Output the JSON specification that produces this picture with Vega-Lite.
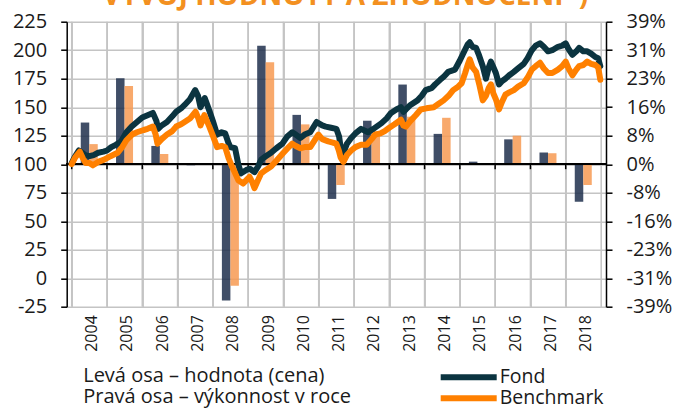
{
  "$schema": "https://vega.github.io/schema/vega-lite/v6.json",
  "width": 539.3,
  "height": 285,
  "autosize": {"type": "none"},
  "padding": {"left": 66.7, "top": 21.7, "right": 70, "bottom": 103.3},
  "title": {"text": "VÝVOJ HODNOTY A ZHODNOCENÍ*)", "fontSize": 28, "fontWeight": "bold", "color": "#f39020", "font": "Open Sans", "anchor": "middle", "frame": "group", "baseline": "alphabetic", "offset": 0, "dx": 9, "dy": 21},
  "config": {"font": "Open Sans", "view": {"stroke": null}},
  "datasets": {
    "bars": [
      {"year": 2004, "fond": 11.4, "benchmark": 5.5},
      {"year": 2005, "fond": 23.5, "benchmark": 21.4},
      {"year": 2006, "fond": 5.0, "benchmark": 2.8},
      {"year": 2007, "fond": -0.3, "benchmark": -0.1},
      {"year": 2008, "fond": -37.3, "benchmark": -33.3},
      {"year": 2009, "fond": 32.4, "benchmark": 27.9},
      {"year": 2010, "fond": 13.5, "benchmark": 10.9},
      {"year": 2011, "fond": -9.5, "benchmark": -5.7},
      {"year": 2012, "fond": 11.9, "benchmark": 9.0},
      {"year": 2013, "fond": 21.8, "benchmark": 13.0},
      {"year": 2014, "fond": 8.3, "benchmark": 12.7},
      {"year": 2015, "fond": 0.7, "benchmark": 0.2},
      {"year": 2016, "fond": 6.8, "benchmark": 7.8},
      {"year": 2017, "fond": 3.2, "benchmark": 3.0},
      {"year": 2018, "fond": -10.3, "benchmark": -5.7}
    ],
    "lines": [
      {"t": 2004.00, "series": "Fond", "v": 101},
      {"t": 2004.08, "series": "Fond", "v": 106},
      {"t": 2004.20, "series": "Fond", "v": 112},
      {"t": 2004.30, "series": "Fond", "v": 110},
      {"t": 2004.38, "series": "Fond", "v": 108},
      {"t": 2004.50, "series": "Fond", "v": 107},
      {"t": 2004.62, "series": "Fond", "v": 108},
      {"t": 2004.75, "series": "Fond", "v": 110},
      {"t": 2004.90, "series": "Fond", "v": 111},
      {"t": 2005.00, "series": "Fond", "v": 112},
      {"t": 2005.12, "series": "Fond", "v": 115},
      {"t": 2005.25, "series": "Fond", "v": 117},
      {"t": 2005.40, "series": "Fond", "v": 120},
      {"t": 2005.55, "series": "Fond", "v": 128},
      {"t": 2005.70, "series": "Fond", "v": 133},
      {"t": 2005.85, "series": "Fond", "v": 137},
      {"t": 2006.00, "series": "Fond", "v": 141},
      {"t": 2006.15, "series": "Fond", "v": 143},
      {"t": 2006.30, "series": "Fond", "v": 145},
      {"t": 2006.40, "series": "Fond", "v": 138},
      {"t": 2006.45, "series": "Fond", "v": 131},
      {"t": 2006.55, "series": "Fond", "v": 134},
      {"t": 2006.70, "series": "Fond", "v": 137},
      {"t": 2006.85, "series": "Fond", "v": 142},
      {"t": 2006.96, "series": "Fond", "v": 146},
      {"t": 2007.10, "series": "Fond", "v": 149},
      {"t": 2007.20, "series": "Fond", "v": 152},
      {"t": 2007.35, "series": "Fond", "v": 157},
      {"t": 2007.50, "series": "Fond", "v": 165},
      {"t": 2007.58, "series": "Fond", "v": 160},
      {"t": 2007.65, "series": "Fond", "v": 150},
      {"t": 2007.77, "series": "Fond", "v": 158},
      {"t": 2007.90, "series": "Fond", "v": 147},
      {"t": 2008.00, "series": "Fond", "v": 138},
      {"t": 2008.12, "series": "Fond", "v": 126},
      {"t": 2008.25, "series": "Fond", "v": 128},
      {"t": 2008.35, "series": "Fond", "v": 127},
      {"t": 2008.45, "series": "Fond", "v": 118},
      {"t": 2008.50, "series": "Fond", "v": 115},
      {"t": 2008.63, "series": "Fond", "v": 114},
      {"t": 2008.72, "series": "Fond", "v": 100},
      {"t": 2008.80, "series": "Fond", "v": 92},
      {"t": 2008.95, "series": "Fond", "v": 95},
      {"t": 2009.05, "series": "Fond", "v": 96},
      {"t": 2009.18, "series": "Fond", "v": 93},
      {"t": 2009.28, "series": "Fond", "v": 98},
      {"t": 2009.37, "series": "Fond", "v": 104},
      {"t": 2009.50, "series": "Fond", "v": 107},
      {"t": 2009.65, "series": "Fond", "v": 110},
      {"t": 2009.80, "series": "Fond", "v": 114},
      {"t": 2009.97, "series": "Fond", "v": 118},
      {"t": 2010.10, "series": "Fond", "v": 124},
      {"t": 2010.25, "series": "Fond", "v": 128},
      {"t": 2010.35, "series": "Fond", "v": 126},
      {"t": 2010.48, "series": "Fond", "v": 123},
      {"t": 2010.60, "series": "Fond", "v": 126},
      {"t": 2010.76, "series": "Fond", "v": 128},
      {"t": 2010.94, "series": "Fond", "v": 137},
      {"t": 2011.10, "series": "Fond", "v": 134},
      {"t": 2011.20, "series": "Fond", "v": 133},
      {"t": 2011.35, "series": "Fond", "v": 132},
      {"t": 2011.50, "series": "Fond", "v": 131},
      {"t": 2011.58, "series": "Fond", "v": 124},
      {"t": 2011.62, "series": "Fond", "v": 115},
      {"t": 2011.70, "series": "Fond", "v": 110},
      {"t": 2011.80, "series": "Fond", "v": 118},
      {"t": 2011.92, "series": "Fond", "v": 123},
      {"t": 2012.04, "series": "Fond", "v": 127},
      {"t": 2012.20, "series": "Fond", "v": 131},
      {"t": 2012.40, "series": "Fond", "v": 128},
      {"t": 2012.55, "series": "Fond", "v": 131},
      {"t": 2012.78, "series": "Fond", "v": 136},
      {"t": 2012.92, "series": "Fond", "v": 140},
      {"t": 2013.05, "series": "Fond", "v": 145},
      {"t": 2013.20, "series": "Fond", "v": 148},
      {"t": 2013.33, "series": "Fond", "v": 150},
      {"t": 2013.40, "series": "Fond", "v": 146},
      {"t": 2013.47, "series": "Fond", "v": 148},
      {"t": 2013.60, "series": "Fond", "v": 152},
      {"t": 2013.80, "series": "Fond", "v": 156},
      {"t": 2013.92, "series": "Fond", "v": 160},
      {"t": 2014.03, "series": "Fond", "v": 165},
      {"t": 2014.21, "series": "Fond", "v": 167},
      {"t": 2014.30, "series": "Fond", "v": 170},
      {"t": 2014.44, "series": "Fond", "v": 174},
      {"t": 2014.55, "series": "Fond", "v": 177},
      {"t": 2014.67, "series": "Fond", "v": 181},
      {"t": 2014.86, "series": "Fond", "v": 183},
      {"t": 2015.00, "series": "Fond", "v": 191},
      {"t": 2015.14, "series": "Fond", "v": 200},
      {"t": 2015.22, "series": "Fond", "v": 205},
      {"t": 2015.28, "series": "Fond", "v": 207},
      {"t": 2015.36, "series": "Fond", "v": 203},
      {"t": 2015.46, "series": "Fond", "v": 202},
      {"t": 2015.55, "series": "Fond", "v": 195},
      {"t": 2015.65, "series": "Fond", "v": 186},
      {"t": 2015.74, "series": "Fond", "v": 175},
      {"t": 2015.82, "series": "Fond", "v": 185},
      {"t": 2015.88, "series": "Fond", "v": 190},
      {"t": 2015.95, "series": "Fond", "v": 185},
      {"t": 2016.02, "series": "Fond", "v": 180},
      {"t": 2016.11, "series": "Fond", "v": 170},
      {"t": 2016.20, "series": "Fond", "v": 173},
      {"t": 2016.29, "series": "Fond", "v": 175},
      {"t": 2016.40, "series": "Fond", "v": 178},
      {"t": 2016.53, "series": "Fond", "v": 181},
      {"t": 2016.65, "series": "Fond", "v": 184},
      {"t": 2016.81, "series": "Fond", "v": 188},
      {"t": 2016.92, "series": "Fond", "v": 193},
      {"t": 2017.04, "series": "Fond", "v": 200},
      {"t": 2017.15, "series": "Fond", "v": 204},
      {"t": 2017.27, "series": "Fond", "v": 206},
      {"t": 2017.38, "series": "Fond", "v": 203},
      {"t": 2017.50, "series": "Fond", "v": 199},
      {"t": 2017.62, "series": "Fond", "v": 200},
      {"t": 2017.78, "series": "Fond", "v": 203},
      {"t": 2017.90, "series": "Fond", "v": 204},
      {"t": 2018.00, "series": "Fond", "v": 206},
      {"t": 2018.08, "series": "Fond", "v": 201},
      {"t": 2018.19, "series": "Fond", "v": 196},
      {"t": 2018.30, "series": "Fond", "v": 199},
      {"t": 2018.38, "series": "Fond", "v": 202},
      {"t": 2018.50, "series": "Fond", "v": 199},
      {"t": 2018.61, "series": "Fond", "v": 199},
      {"t": 2018.72, "series": "Fond", "v": 197},
      {"t": 2018.84, "series": "Fond", "v": 194},
      {"t": 2018.92, "series": "Fond", "v": 193},
      {"t": 2018.98, "series": "Fond", "v": 186},
      {"t": 2004.00, "series": "Benchmark", "v": 100},
      {"t": 2004.10, "series": "Benchmark", "v": 106},
      {"t": 2004.23, "series": "Benchmark", "v": 111},
      {"t": 2004.32, "series": "Benchmark", "v": 105},
      {"t": 2004.40, "series": "Benchmark", "v": 101},
      {"t": 2004.50, "series": "Benchmark", "v": 101},
      {"t": 2004.60, "series": "Benchmark", "v": 99},
      {"t": 2004.75, "series": "Benchmark", "v": 102},
      {"t": 2004.92, "series": "Benchmark", "v": 104},
      {"t": 2005.10, "series": "Benchmark", "v": 107},
      {"t": 2005.30, "series": "Benchmark", "v": 110},
      {"t": 2005.43, "series": "Benchmark", "v": 115},
      {"t": 2005.55, "series": "Benchmark", "v": 121},
      {"t": 2005.71, "series": "Benchmark", "v": 126},
      {"t": 2005.85, "series": "Benchmark", "v": 128},
      {"t": 2006.04, "series": "Benchmark", "v": 130},
      {"t": 2006.15, "series": "Benchmark", "v": 131},
      {"t": 2006.30, "series": "Benchmark", "v": 133},
      {"t": 2006.38, "series": "Benchmark", "v": 126},
      {"t": 2006.43, "series": "Benchmark", "v": 118},
      {"t": 2006.55, "series": "Benchmark", "v": 122},
      {"t": 2006.70, "series": "Benchmark", "v": 126},
      {"t": 2006.85, "series": "Benchmark", "v": 129},
      {"t": 2006.96, "series": "Benchmark", "v": 133},
      {"t": 2007.10, "series": "Benchmark", "v": 135},
      {"t": 2007.20, "series": "Benchmark", "v": 137},
      {"t": 2007.35, "series": "Benchmark", "v": 140},
      {"t": 2007.51, "series": "Benchmark", "v": 146},
      {"t": 2007.58, "series": "Benchmark", "v": 141},
      {"t": 2007.65, "series": "Benchmark", "v": 134},
      {"t": 2007.76, "series": "Benchmark", "v": 143},
      {"t": 2007.90, "series": "Benchmark", "v": 133},
      {"t": 2008.00, "series": "Benchmark", "v": 125},
      {"t": 2008.12, "series": "Benchmark", "v": 115},
      {"t": 2008.25, "series": "Benchmark", "v": 116},
      {"t": 2008.35, "series": "Benchmark", "v": 115},
      {"t": 2008.45, "series": "Benchmark", "v": 105},
      {"t": 2008.54, "series": "Benchmark", "v": 98},
      {"t": 2008.62, "series": "Benchmark", "v": 93},
      {"t": 2008.72, "series": "Benchmark", "v": 86},
      {"t": 2008.86, "series": "Benchmark", "v": 83},
      {"t": 2008.95, "series": "Benchmark", "v": 86},
      {"t": 2009.04, "series": "Benchmark", "v": 89},
      {"t": 2009.12, "series": "Benchmark", "v": 84},
      {"t": 2009.18, "series": "Benchmark", "v": 79},
      {"t": 2009.28, "series": "Benchmark", "v": 86},
      {"t": 2009.37, "series": "Benchmark", "v": 92},
      {"t": 2009.50, "series": "Benchmark", "v": 95},
      {"t": 2009.65, "series": "Benchmark", "v": 98},
      {"t": 2009.80, "series": "Benchmark", "v": 103},
      {"t": 2010.00, "series": "Benchmark", "v": 110},
      {"t": 2010.12, "series": "Benchmark", "v": 114},
      {"t": 2010.25, "series": "Benchmark", "v": 118},
      {"t": 2010.35, "series": "Benchmark", "v": 116},
      {"t": 2010.48, "series": "Benchmark", "v": 114},
      {"t": 2010.60, "series": "Benchmark", "v": 115},
      {"t": 2010.76, "series": "Benchmark", "v": 115},
      {"t": 2010.99, "series": "Benchmark", "v": 126},
      {"t": 2011.10, "series": "Benchmark", "v": 122},
      {"t": 2011.27, "series": "Benchmark", "v": 120},
      {"t": 2011.40, "series": "Benchmark", "v": 119},
      {"t": 2011.50, "series": "Benchmark", "v": 118},
      {"t": 2011.57, "series": "Benchmark", "v": 112},
      {"t": 2011.62, "series": "Benchmark", "v": 106},
      {"t": 2011.70, "series": "Benchmark", "v": 102},
      {"t": 2011.80, "series": "Benchmark", "v": 108},
      {"t": 2011.92, "series": "Benchmark", "v": 112},
      {"t": 2012.04, "series": "Benchmark", "v": 115},
      {"t": 2012.20, "series": "Benchmark", "v": 117},
      {"t": 2012.36, "series": "Benchmark", "v": 117},
      {"t": 2012.50, "series": "Benchmark", "v": 122},
      {"t": 2012.60, "series": "Benchmark", "v": 126},
      {"t": 2012.75, "series": "Benchmark", "v": 127},
      {"t": 2012.87, "series": "Benchmark", "v": 129},
      {"t": 2013.00, "series": "Benchmark", "v": 132},
      {"t": 2013.15, "series": "Benchmark", "v": 135},
      {"t": 2013.33, "series": "Benchmark", "v": 139},
      {"t": 2013.40, "series": "Benchmark", "v": 134},
      {"t": 2013.47, "series": "Benchmark", "v": 133},
      {"t": 2013.60, "series": "Benchmark", "v": 138},
      {"t": 2013.75, "series": "Benchmark", "v": 143},
      {"t": 2013.89, "series": "Benchmark", "v": 148},
      {"t": 2014.05, "series": "Benchmark", "v": 149},
      {"t": 2014.26, "series": "Benchmark", "v": 150},
      {"t": 2014.40, "series": "Benchmark", "v": 153},
      {"t": 2014.54, "series": "Benchmark", "v": 156},
      {"t": 2014.68, "series": "Benchmark", "v": 160},
      {"t": 2014.81, "series": "Benchmark", "v": 165},
      {"t": 2014.95, "series": "Benchmark", "v": 168},
      {"t": 2015.05, "series": "Benchmark", "v": 171},
      {"t": 2015.15, "series": "Benchmark", "v": 180},
      {"t": 2015.22, "series": "Benchmark", "v": 187},
      {"t": 2015.28, "series": "Benchmark", "v": 192},
      {"t": 2015.36, "series": "Benchmark", "v": 185},
      {"t": 2015.46, "series": "Benchmark", "v": 181},
      {"t": 2015.55, "series": "Benchmark", "v": 170},
      {"t": 2015.65, "series": "Benchmark", "v": 156},
      {"t": 2015.74, "series": "Benchmark", "v": 160},
      {"t": 2015.82, "series": "Benchmark", "v": 167},
      {"t": 2015.88, "series": "Benchmark", "v": 170},
      {"t": 2015.95, "series": "Benchmark", "v": 162},
      {"t": 2016.02, "series": "Benchmark", "v": 157},
      {"t": 2016.11, "series": "Benchmark", "v": 148},
      {"t": 2016.20, "series": "Benchmark", "v": 155},
      {"t": 2016.29, "series": "Benchmark", "v": 161},
      {"t": 2016.40, "series": "Benchmark", "v": 163},
      {"t": 2016.53, "series": "Benchmark", "v": 165},
      {"t": 2016.65, "series": "Benchmark", "v": 168},
      {"t": 2016.81, "series": "Benchmark", "v": 171},
      {"t": 2016.92, "series": "Benchmark", "v": 176},
      {"t": 2017.04, "series": "Benchmark", "v": 183},
      {"t": 2017.15, "series": "Benchmark", "v": 186},
      {"t": 2017.27, "series": "Benchmark", "v": 189},
      {"t": 2017.38, "series": "Benchmark", "v": 184},
      {"t": 2017.50, "series": "Benchmark", "v": 180},
      {"t": 2017.62, "series": "Benchmark", "v": 180},
      {"t": 2017.78, "series": "Benchmark", "v": 183},
      {"t": 2017.90, "series": "Benchmark", "v": 186},
      {"t": 2018.00, "series": "Benchmark", "v": 190},
      {"t": 2018.08, "series": "Benchmark", "v": 184},
      {"t": 2018.19, "series": "Benchmark", "v": 178},
      {"t": 2018.30, "series": "Benchmark", "v": 183},
      {"t": 2018.38, "series": "Benchmark", "v": 186},
      {"t": 2018.50, "series": "Benchmark", "v": 187},
      {"t": 2018.61, "series": "Benchmark", "v": 190},
      {"t": 2018.72, "series": "Benchmark", "v": 188},
      {"t": 2018.84, "series": "Benchmark", "v": 187},
      {"t": 2018.92, "series": "Benchmark", "v": 185},
      {"t": 2018.98, "series": "Benchmark", "v": 174}
    ]
  },
  "layer": [
    {
      "data": {"name": "bars"},
      "layer": [
        {
          "mark": {"type": "bar", "width": 8.5, "xOffset": 13.3, "color": "#1e2f4c", "opacity": 0.85},
          "encoding": {
            "x": {"field": "year", "type": "quantitative", "scale": {"domain": [2004, 2019], "nice": false, "zero": false},
              "axis": {"orient": "bottom", "values": [2004, 2005, 2006, 2007, 2008, 2009, 2010, 2011, 2012, 2013, 2014, 2015, 2016, 2017, 2018, 2019],
                "grid": true, "gridColor": "#c4c4c4", "gridWidth": 1.5, "ticks": false, "domain": false,
                "labelAngle": -90, "labelOffset": 20, "labelPadding": 8, "labelFontSize": 16, "labelColor": "#1a1a1a", "labelFlush": false, "labelOverlap": false,
                "labelExpr": "datum.value < 2019 ? '' + datum.value : ''",
                "title": ["Levá osa – hodnota (cena)", "Pravá osa – výkonnost v roce"],
                "titleX": 16, "titleY": 59, "titleAlign": "left", "titleAnchor": "start", "titleBaseline": "top",
                "titleFontSize": 20, "titleFontWeight": "normal", "titleLineHeight": 21, "titleColor": "#1a1a1a"}},
            "y": {"field": "fond", "type": "quantitative", "scale": {"domain": [-39, 39], "nice": false},
              "axis": {"orient": "right", "values": [-39, -31.2, -23.4, -15.6, -7.8, 0, 7.8, 15.6, 23.4, 31.2, 39],
                "grid": false, "labelOverlap": false, "labelExpr": "(datum.value < 0 ? '-' : '') + format(abs(datum.value), '.0f') + '%'", "domainColor": "#000", "domainWidth": 1.5,
                "tickColor": "#000", "tickWidth": 1.5, "tickSize": 6, "labelFontSize": 20, "labelPadding": 14, "labelColor": "#1a1a1a", "title": null}}
          }
        },
        {
          "mark": {"type": "tick", "orient": "vertical", "size": 285, "thickness": 1.5, "color": "#c4c4c4", "opacity": 1},
          "encoding": {
            "x": {"field": "year", "type": "quantitative", "scale": {"domain": [2004, 2019], "nice": false, "zero": false},
              "axis": {"orient": "bottom", "values": [2004, 2005, 2006, 2007, 2008, 2009, 2010, 2011, 2012, 2013, 2014, 2015, 2016, 2017, 2018, 2019],
                "grid": true, "gridColor": "#c4c4c4", "gridWidth": 1.5, "ticks": false, "domain": false,
                "labelAngle": -90, "labelOffset": 20, "labelPadding": 8, "labelFontSize": 16, "labelColor": "#1a1a1a", "labelFlush": false, "labelOverlap": false,
                "labelExpr": "datum.value < 2019 ? '' + datum.value : ''",
                "title": ["Levá osa – hodnota (cena)", "Pravá osa – výkonnost v roce"],
                "titleX": 16, "titleY": 59, "titleAlign": "left", "titleAnchor": "start", "titleBaseline": "top",
                "titleFontSize": 20, "titleFontWeight": "normal", "titleLineHeight": 21, "titleColor": "#1a1a1a"}},
            "y": {"datum": 0, "type": "quantitative", "scale": {"domain": [-39, 39], "nice": false},
              "axis": {"orient": "right", "values": [-39, -31.2, -23.4, -15.6, -7.8, 0, 7.8, 15.6, 23.4, 31.2, 39],
                "grid": false, "labelOverlap": false, "labelExpr": "(datum.value < 0 ? '-' : '') + format(abs(datum.value), '.0f') + '%'", "domainColor": "#000", "domainWidth": 1.5,
                "tickColor": "#000", "tickWidth": 1.5, "tickSize": 6, "labelFontSize": 20, "labelPadding": 14, "labelColor": "#1a1a1a", "title": null}}
          }
        },
        {
          "mark": {"type": "bar", "width": 8.5, "xOffset": 21.8, "color": "#f79a52", "opacity": 0.85},
          "encoding": {
            "x": {"field": "year", "type": "quantitative", "scale": {"domain": [2004, 2019], "nice": false, "zero": false},
              "axis": {"orient": "bottom", "values": [2004, 2005, 2006, 2007, 2008, 2009, 2010, 2011, 2012, 2013, 2014, 2015, 2016, 2017, 2018, 2019],
                "grid": true, "gridColor": "#c4c4c4", "gridWidth": 1.5, "ticks": false, "domain": false,
                "labelAngle": -90, "labelOffset": 20, "labelPadding": 8, "labelFontSize": 16, "labelColor": "#1a1a1a", "labelFlush": false, "labelOverlap": false,
                "labelExpr": "datum.value < 2019 ? '' + datum.value : ''",
                "title": ["Levá osa – hodnota (cena)", "Pravá osa – výkonnost v roce"],
                "titleX": 16, "titleY": 59, "titleAlign": "left", "titleAnchor": "start", "titleBaseline": "top",
                "titleFontSize": 20, "titleFontWeight": "normal", "titleLineHeight": 21, "titleColor": "#1a1a1a"}},
            "y": {"field": "benchmark", "type": "quantitative", "scale": {"domain": [-39, 39], "nice": false},
              "axis": {"orient": "right", "values": [-39, -31.2, -23.4, -15.6, -7.8, 0, 7.8, 15.6, 23.4, 31.2, 39],
                "grid": false, "labelOverlap": false, "labelExpr": "(datum.value < 0 ? '-' : '') + format(abs(datum.value), '.0f') + '%'", "domainColor": "#000", "domainWidth": 1.5,
                "tickColor": "#000", "tickWidth": 1.5, "tickSize": 6, "labelFontSize": 20, "labelPadding": 14, "labelColor": "#1a1a1a", "title": null}}
          }
        }
      ]
    },
    {
      "layer": [
        {
          "data": {"name": "bars"},
          "mark": {"type": "rule", "color": "#000", "strokeWidth": 1.5},
          "encoding": {
            "y": {"datum": 100, "type": "quantitative", "scale": {"domain": [-25, 225], "nice": false, "zero": false},
              "axis": {"orient": "left", "values": [-25, 0, 25, 50, 75, 100, 125, 150, 175, 200, 225], "labelOverlap": false,
                "labelExpr": "(datum.value < 0 ? '-' : '') + abs(datum.value)",
                "grid": true, "gridColor": "#c4c4c4", "gridWidth": 1.5, "domainColor": "#000", "domainWidth": 1.5,
                "tickColor": "#000", "tickWidth": 1.5, "tickSize": 6, "labelFontSize": 20, "labelPadding": 14, "labelColor": "#1a1a1a", "title": null}}
          }
        },
        {
          "data": {"name": "bars"},
          "mark": {"type": "tick", "orient": "vertical", "size": 5, "thickness": 1.5, "yOffset": 2.5, "color": "#000", "opacity": 1},
          "encoding": {
            "x": {"field": "year", "type": "quantitative", "scale": {"domain": [2004, 2019], "nice": false, "zero": false},
              "axis": {"orient": "bottom", "values": [2004, 2005, 2006, 2007, 2008, 2009, 2010, 2011, 2012, 2013, 2014, 2015, 2016, 2017, 2018, 2019],
                "grid": true, "gridColor": "#c4c4c4", "gridWidth": 1.5, "ticks": false, "domain": false,
                "labelAngle": -90, "labelOffset": 20, "labelPadding": 8, "labelFontSize": 16, "labelColor": "#1a1a1a", "labelFlush": false, "labelOverlap": false,
                "labelExpr": "datum.value < 2019 ? '' + datum.value : ''",
                "title": ["Levá osa – hodnota (cena)", "Pravá osa – výkonnost v roce"],
                "titleX": 16, "titleY": 59, "titleAlign": "left", "titleAnchor": "start", "titleBaseline": "top",
                "titleFontSize": 20, "titleFontWeight": "normal", "titleLineHeight": 21, "titleColor": "#1a1a1a"}},
            "y": {"datum": 100, "type": "quantitative", "scale": {"domain": [-25, 225], "nice": false, "zero": false},
              "axis": {"orient": "left", "values": [-25, 0, 25, 50, 75, 100, 125, 150, 175, 200, 225], "labelOverlap": false,
                "labelExpr": "(datum.value < 0 ? '-' : '') + abs(datum.value)",
                "grid": true, "gridColor": "#c4c4c4", "gridWidth": 1.5, "domainColor": "#000", "domainWidth": 1.5,
                "tickColor": "#000", "tickWidth": 1.5, "tickSize": 6, "labelFontSize": 20, "labelPadding": 14, "labelColor": "#1a1a1a", "title": null}}
          }
        },
        {
          "data": {"name": "lines"},
          "mark": {"type": "line", "strokeWidth": 6, "strokeJoin": "round", "strokeCap": "round"},
          "encoding": {
            "x": {"field": "t", "type": "quantitative", "scale": {"domain": [2004, 2019], "nice": false, "zero": false},
              "axis": {"orient": "bottom", "values": [2004, 2005, 2006, 2007, 2008, 2009, 2010, 2011, 2012, 2013, 2014, 2015, 2016, 2017, 2018, 2019],
                "grid": true, "gridColor": "#c4c4c4", "gridWidth": 1.5, "ticks": false, "domain": false,
                "labelAngle": -90, "labelOffset": 20, "labelPadding": 8, "labelFontSize": 16, "labelColor": "#1a1a1a", "labelFlush": false, "labelOverlap": false,
                "labelExpr": "datum.value < 2019 ? '' + datum.value : ''",
                "title": ["Levá osa – hodnota (cena)", "Pravá osa – výkonnost v roce"],
                "titleX": 16, "titleY": 59, "titleAlign": "left", "titleAnchor": "start", "titleBaseline": "top",
                "titleFontSize": 20, "titleFontWeight": "normal", "titleLineHeight": 21, "titleColor": "#1a1a1a"}},
            "y": {"field": "v", "type": "quantitative", "scale": {"domain": [-25, 225], "nice": false, "zero": false},
              "axis": {"orient": "left", "values": [-25, 0, 25, 50, 75, 100, 125, 150, 175, 200, 225], "labelOverlap": false,
                "labelExpr": "(datum.value < 0 ? '-' : '') + abs(datum.value)",
                "grid": true, "gridColor": "#c4c4c4", "gridWidth": 1.5, "domainColor": "#000", "domainWidth": 1.5,
                "tickColor": "#000", "tickWidth": 1.5, "tickSize": 6, "labelFontSize": 20, "labelPadding": 14, "labelColor": "#1a1a1a", "title": null}},
            "color": {"field": "series", "type": "nominal", "sort": ["Fond", "Benchmark"],
              "scale": {"domain": ["Fond", "Benchmark"], "range": ["#0b3440", "#ff8000"]},
              "legend": {"orient": "none", "legendX": 371, "legendY": 345, "title": null, "symbolType": "stroke",
                "symbolSize": 3136, "symbolStrokeWidth": 6, "labelFontSize": 19.5, "labelOffset": 0, "clipHeight": 21,
                "rowPadding": 0, "padding": 0, "labelColor": "#1a1a1a"}}
          }
        }
      ]
    }
  ],
  "resolve": {"scale": {"y": "independent"}}
}
